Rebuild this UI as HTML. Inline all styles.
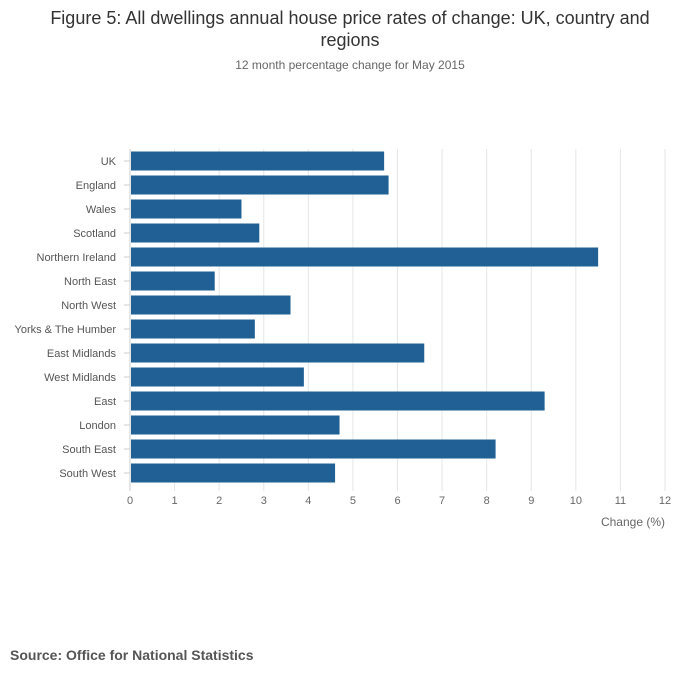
<!DOCTYPE html>
<html><head><meta charset="utf-8">
<style>
body{margin:0;background:#fff;font-family:"Liberation Sans",sans-serif;}
#wrap{position:relative;width:700px;height:682px;overflow:hidden;}
</style></head>
<body>
<div id="wrap">
<svg id="chart" width="700" height="682">
<text x="350" y="24" text-anchor="middle" font-size="18" fill="#333">Figure 5: All dwellings annual house price rates of change: UK, country and</text>
<text x="350" y="46" text-anchor="middle" font-size="18" fill="#333">regions</text>
<text x="350" y="69" text-anchor="middle" font-size="12" fill="#666">12 month percentage change for May 2015</text>
<g id="grid"></g><g id="bars"></g><g id="labels"></g>
<text x="665" y="526" text-anchor="end" font-size="12" fill="#666">Change (%)</text>
<text x="10" y="660" font-size="14" font-weight="bold" fill="#555">Source: Office for National Statistics</text>
</svg>
</div>
<script>
const categories=["UK","England","Wales","Scotland","Northern Ireland","North East","North West","Yorks & The Humber","East Midlands","West Midlands","East","London","South East","South West"];
const values=[5.7,5.8,2.5,2.9,10.5,1.9,3.6,2.8,6.6,3.9,9.3,4.7,8.2,4.6];
const ticks=[0,1,2,3,4,5,6,7,8,9,10,11,12];
const NS="http://www.w3.org/2000/svg";
const x0=130,x1=665,plotTop=149,step=24,xmax=12;
const xs=v=>x0+(x1-x0)*v/xmax;
const yc=i=>plotTop+step*i+12;
function mk(tag,attrs,parent){const e=document.createElementNS(NS,tag);for(const k in attrs)e.setAttribute(k,attrs[k]);document.getElementById(parent).appendChild(e);return e;}
ticks.forEach(t=>{
 const l=mk('line',{x1:xs(t),x2:xs(t),y1:plotTop,y2:plotTop+step*categories.length+6,stroke:t===0?'#ccc':'#e6e6e6','stroke-width':1},'grid');
 
 
 const tx=mk('text',{x:xs(t),y:504,'text-anchor':'middle','font-size':11,fill:'#666'},'grid');
 tx.textContent=t;
 
 
});
categories.forEach((c,i)=>{
 const r=mk('rect',{x:xs(0)+1,y:yc(i)-9.5,width:xs(values[i])-xs(0)-1,height:19,fill:'#206095'},'bars');
 
 
 const tk=mk('line',{x1:x0-6,x2:x0,y1:yc(i),y2:yc(i),stroke:'#ccc'},'labels');
 
 
 const t=mk('text',{x:116,y:yc(i)+4,'text-anchor':'end','font-size':11,fill:'#555'},'labels');
 t.textContent=c;
 
 
});
</script>
</body></html>
